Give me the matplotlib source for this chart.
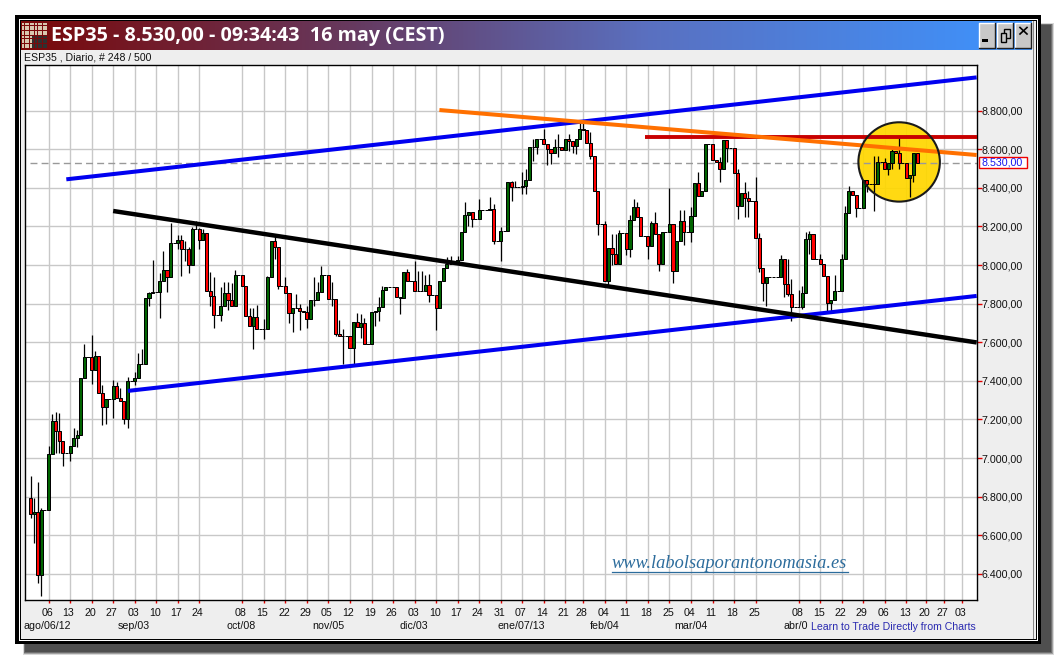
import numpy as np
import matplotlib
matplotlib.use("Agg")
import matplotlib.pyplot as plt
from matplotlib.patches import Rectangle, Ellipse
from matplotlib.colors import LinearSegmentedColormap
from matplotlib.transforms import ScaledTranslation

W, H = 1057, 659

closes = [
 6708,6722,6395,6732,6732,7022,7191,7141,7089,7024,
 7024,7065,7106,7120,7416,7523,7523,7457,7530,7339,
 7266,7308,7308,7375,7311,7296,7204,7399,7399,7417,
 7489,7489,7830,7854,7858,7858,7918,7974,7940,8113,
 8113,8129,8082,8082,8000,8185,8185,8129,8165,7868,
 7840,7743,7743,7789,7854,7820,7789,7949,7949,7892,
 7736,7686,7732,7671,7671,7671,7938,8122,8094,7889,
 7889,7856,7753,7777,7777,7762,7758,7720,7818,7818,
 7860,7948,7948,7823,7823,7642,7631,7631,7631,7569,
 7706,7680,7702,7590,7590,7758,7763,7785,7870,7884,
 7884,7884,7837,7829,7964,7917,7917,7865,7865,7865,
 7896,7846,7846,7780,7917,7984,8005,8005,8005,8026,
 8171,8259,8273,8239,8239,8285,8285,8285,8290,8125,
 8125,8176,8176,8432,8403,8403,8403,8407,8441,8610,
 8610,8654,8654,8628,8602,8581,8611,8611,8597,8654,
 8642,8618,8654,8706,8697,8633,8567,8386,8213,8213,
 7917,8086,8057,8005,8164,8164,8083,8234,8299,8251,
 8150,8150,8099,8218,8161,8005,8170,8170,8213,7967,
 8126,8227,8173,8173,8253,8426,8356,8382,8628,8628,
 8545,8533,8498,8649,8607,8607,8477,8306,8372,8348,
 8334,8334,8140,7983,7907,7936,7936,7936,7936,8031,
 7901,7849,7785,7785,7785,7855,8135,8161,8031,8031,
 8005,7941,7803,7820,7866,7866,8029,8267,8382,8362,
 8293,8293,8440,8422,8422,8422,8535,8535,8495,8530,
 8592,8578,8526,8526,8449,8465,8579,8530]
first_open = 6794

wick_highs = {0:6909,1:6792,2:6878,3:6743,5:7065,6:7230,7:7239,8:7235,12:7158,13:7148,15:7591,
 17:7640,18:7557,20:7380,23:7402,24:7394,25:7364,27:7420,29:7445,30:7545,31:7563,33:7860,
 34:8026,36:7960,37:8074,39:8220,41:8156,42:8156,43:8125,44:8091,45:8197,46:8228,47:8190,
 48:8185,50:7962,51:7940,53:7885,54:7911,55:7911,56:7905,57:7974,61:7779,62:7779,63:7791,
 65:7722,66:7945,68:8154,71:7936,74:7851,75:7799,77:7790,79:7936,80:7910,81:7997,84:7910,
 86:7716,87:7671,91:7754,92:7746,93:7725,97:7832,98:7890,105:7979,107:8022,108:7970,109:7970,
 110:7948,111:7953,116:8040,117:8048,119:8048,121:8325,125:8342,128:8351,129:8317,131:8199,
 134:8437,135:8437,137:8481,138:8498,140:8654,143:8706,145:8603,146:8654,147:8680,150:8680,
 153:8749,154:8749,156:8689,160:8227,162:8161,163:8161,164:8182,167:8260,168:8342,169:8325,
 173:8230,174:8277,178:8400,181:8285,182:8285,184:8303,186:8481,192:8560,197:8498,199:8429,
 200:8386,202:8458,203:8166,209:8054,211:8031,212:7927,214:7870,215:7893,216:8170,217:8178,
 220:8055,224:7948,226:8055,227:8304,228:8409,235:8564,236:8564,238:8552,240:8600,242:8661}
wick_lows = {0:6690,1:6561,2:6355,3:6288,7:7024,8:7024,9:6960,11:6986,13:7055,17:7382,20:7170,
 21:7179,23:7208,26:7175,27:7158,29:7380,33:7789,36:7726,38:7859,41:8082,42:7945,43:8022,
 44:7957,47:8082,50:7790,51:7676,53:7708,55:7768,62:7566,65:7616,68:8031,69:7877,72:7700,
 73:7654,75:7666,77:7676,79:7786,84:7789,85:7633,87:7486,90:7483,92:7624,96:7685,97:7711,
 103:7746,111:7806,113:7666,122:8204,123:8195,129:8109,131:8022,134:8334,137:8368,138:8368,
 140:8541,141:8576,144:8520,145:8524,147:8560,150:8590,151:8580,152:8576,156:8550,158:8156,
 161:7893,162:8000,166:8054,167:8040,172:8031,175:7971,179:7905,182:8104,184:8121,192:8432,
 194:8533,197:8237,199:8251,200:8251,203:7962,204:7815,205:7786,210:7832,211:7840,212:7708,
 215:7771,217:8057,222:7763,223:7763,230:8250,233:8380,235:8281,239:8466,240:8500,242:8500,
 245:8354,246:8431}

day_ticks = [5,11,17,23,29,35,41,47,59,65,71,77,83,89,95,101,107,113,119,125,131,137,143,149,154,
             160,166,172,178,184,190,196,202,214,220,226,232,238,244,249.5,254.5,259.5]
day_labels = ["06","13","20","27","03","10","17","24","08","15","22","29","05","12","19","26",
              "03","10","17","24","31","07","14","21","28","04","11","18","25","04","11","18","25",
              "08","15","22","29","06","13","20","27","03"]
price_ticks = [6400,6600,6800,7000,7200,7400,7600,7800,8000,8200,8400,8600,8800]
last_price = 8530
month_labels = ["sep/03","oct/08","nov/05","dic/03","ene/07/13","feb/04","mar/04"]
month_px = [134,241.5,328,414,521.7,605,690.7]

# trend lines: (index0, price0, index1, price1)
blue_upper = (9.95, 8444, 263.6, 8972)
blue_lower = (27.1, 7348, 263.6, 7840)
black_line = (23.0, 8280, 263.6, 7599)
orange_line = (113.9, 8803, 263.6, 8570)
red_line = (171.1, 8665, 263.6, 8665)

def price_fmt(v):
    s = f"{v:,.2f}"
    return s.replace(",", "#").replace(".", ",").replace("#", ".")

fig = plt.figure(figsize=(W/100, H/100), dpi=100, facecolor="white")
plt.rcParams['font.family'] = ['Liberation Sans', 'DejaVu Sans']
LAB = 7.7

bg = fig.add_axes([0, 0, 1, 1], zorder=0)
bg.set_xlim(0, W); bg.set_ylim(H, 0); bg.axis("off")
def box(ax, x0, y0, x1, y1, **k):
    k.setdefault("lw", 0)
    ax.add_patch(Rectangle((x0, y0), x1-x0, y1-y0, **k))

# soft shadow
for d, c in [(2.5, "#d8d8d8"), (1.5, "#a0a0a0"), (0.7, "#707070"), (0, "#4f4f4f")]:
    box(bg, 25-d, 25-d, 1051+d, 652+d, fc=c)
# frame
box(bg, 15, 15, 1041, 644, fc="black")
box(bg, 18.5, 18.5, 1037.5, 640.5, fc="white")
box(bg, 19.5, 19.5, 1036.5, 639.5, fc="black")
box(bg, 20.5, 20.5, 1035.5, 638.5, fc="#EEEEEE")
box(bg, 1033, 20.5, 1034, 638.5, fc="#888888")

# title gradient
cm = LinearSegmentedColormap.from_list("t", [(0, "#7A0808"), (0.33, "#663A60"), (0.62, "#5A70C0"), (1, "#3D94FF")])
bg.imshow(np.linspace(0, 1, 512).reshape(1, -1), extent=(21, 1032, 50, 21), cmap=cm, aspect="auto", zorder=1)
bg.set_xlim(0, W); bg.set_ylim(H, 0)
# logo dots
gx, gy = np.meshgrid(np.arange(23, 47, 2.6), np.arange(24, 48, 2.6))
bright = (gy < 36) | (gx < 32)
bg.scatter(gx[bright], gy[bright], s=1.6, c="#D8C8B0", marker="s", lw=0, zorder=2)
bg.scatter(gx[~bright], gy[~bright], s=1.6, c="#303030", marker="s", lw=0, zorder=2)
bg.text(51, 36.5, "ESP35 - 8.530,00 - 09:34:43  16 may (CEST)", color="white", fontsize=14.2,
        family="Open Sans", fontweight="bold", va="center", ha="left", zorder=3)
# window buttons
for x0, x1 in [(979, 995), (997, 1013), (1015, 1031)]:
    box(bg, x0, 23, x1, 47.5, fc="#C8C8C8", zorder=2)
    bg.plot([x0, x0, x1], [47.5, 23, 23], color="white", lw=1, zorder=3)
    bg.plot([x0, x1, x1], [47.5, 47.5, 23], color="#202020", lw=1, zorder=3)
box(bg, 982, 39, 988, 42, fc="black", zorder=3)
box(bg, 1003.5, 29, 1010, 38, fc="none", ec="black", lw=1, zorder=3)
box(bg, 1000.5, 33, 1006, 41.5, fc="#C8C8C8", ec="black", lw=1, zorder=4)
bg.plot([1020, 1027], [27.5, 34], color="black", lw=1.2, zorder=3)
bg.plot([1027, 1020], [27.5, 34], color="black", lw=1.2, zorder=3)

bg.text(24.5, 58, "ESP35 , Diario, # 248 / 500", fontsize=7.6, va="center", ha="left", color="#111111", zorder=3)

# chart
x0p, x1p, y0p, y1p = 24.5, 976.7, 65.0, 600.0
ax = fig.add_axes([x0p/W, 1-y1p/H, (x1p-x0p)/W, (y1p-y0p)/H], zorder=1, facecolor="white")
to_i = lambda px: (px-30.6)/3.589
to_p = lambda py: 8800-(py-110.6)*5.18
ax.set_xlim(to_i(x0p), to_i(x1p))
ax.set_ylim(to_p(y1p), to_p(y0p))

grid_c = "#C8C8C8"
ax.set_axisbelow(True)
ax.grid(True, color=grid_c, lw=1.0, zorder=0)
ax.yaxis.tick_right()
ax.set_yticks(price_ticks)
ax.set_yticklabels([price_fmt(v) for v in price_ticks])
ax.set_xticks(day_ticks)
ax.set_xticklabels(day_labels)
ax.tick_params(axis="y", length=3.4, width=1, color="#E00000", labelsize=LAB, pad=0.3, labelcolor="#111111")
ax.tick_params(axis="x", length=2.2, width=1, color="#E00000", labelsize=LAB, pad=3.4, labelcolor="#111111")
for s in ax.spines.values():
    s.set_linewidth(1.0); s.set_color("black")
shift = ScaledTranslation(-1.5/100, 0, fig.dpi_scale_trans)
for lab in ax.get_xticklabels():
    lab.set_transform(lab.get_transform() + shift)

ax.axhline(last_price, xmin=0.006, color="#999999", lw=1, dashes=(5, 3), zorder=1.5)

# yellow circle
ax.add_patch(Ellipse((242, 8534), 22.7, 411, fc="#FFD700", ec="none", alpha=0.93, zorder=1.2))

# candles
opens = [first_open] + closes[:-1]
idx = np.arange(len(closes))
hi = [wick_highs.get(i, max(opens[i], closes[i])) for i in idx]
lo = [wick_lows.get(i, min(opens[i], closes[i])) for i in idx]
ax.vlines(idx, lo, hi, color="black", lw=0.9, zorder=2)
cols = ["#006400" if c >= o else "#FF0000" for o, c in zip(opens, closes)]
ax.bar(idx, np.array(closes)-np.array(opens), bottom=opens, width=0.86, color=cols,
       edgecolor="black", linewidth=0.72, zorder=2.5)

# trend lines
for (a, b, c, d), col, lw in [(blue_upper, "#0000F0", 2.9), (blue_lower, "#0000F0", 2.9),
                              (black_line, "black", 3.2), (red_line, "#C80000", 2.8),
                              (orange_line, "#FF7000", 2.9)]:
    ax.plot([a, c], [b, d], color=col, lw=lw, solid_capstyle="butt", zorder=3)
ax.add_patch(Ellipse((242, 8534), 22.7, 411, fc="none", ec="#1A1A1A", lw=1.5, zorder=3.5))

# overlay
fg = fig.add_axes([0, 0, 1, 1], zorder=2)
fg.set_xlim(0, W); fg.set_ylim(H, 0); fg.axis("off")
fg.text(23.5, 626, "ago/06/12", fontsize=LAB, va="center", ha="left", color="#111111")
for m, px in zip(month_labels, month_px):
    fg.text(px, 626, m, fontsize=LAB, va="center", ha="center", color="#111111")
fg.text(783.7, 626, "abr/0", fontsize=LAB, va="center", ha="left", color="#111111")
fg.text(976, 627, "Learn to Trade Directly from Charts", fontsize=7.6, va="center", ha="right", color="#2A2AB0")
fg.text(612, 563, "www.labolsaporantonomasia.es", family="Liberation Serif", style="italic",
        fontsize=13.25, va="center", ha="left", color="#2C6C9C")
fg.plot([612, 847.5], [571.5, 571.5], color="#2C6C9C", lw=0.9)
box(fg, 979, 156.5, 1027, 168, fc="white", ec="#F00000", lw=1)
fg.text(981.5, 162.5, price_fmt(last_price), fontsize=LAB, va="center", ha="left", color="#1515F0")

fig.savefig("out.png", dpi=100)
